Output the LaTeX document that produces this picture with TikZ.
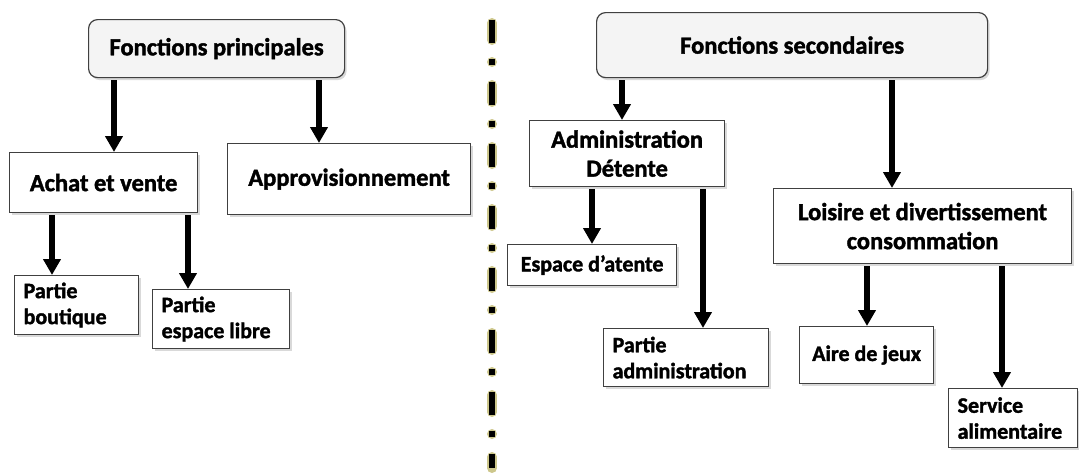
\documentclass[tikz,border=0pt]{standalone}
\usepackage{fontspec}
\setmainfont[BoldFeatures={FakeBold=1.6}]{Carlito}
\usepackage{tikz}
\usetikzlibrary{arrows.meta, shadows, positioning}

\definecolor{bordgris}{RGB}{64,64,64}
\definecolor{titrefond}{RGB}{244,244,244}
\definecolor{halo}{RGB}{205,199,140}

\newcommand{\grandtxt}{\fontsize{24.5}{29}\selectfont\bfseries}
\newcommand{\petittxt}{\fontsize{22}{26}\selectfont\bfseries}

\tikzset{
	cadre/.style={draw=bordgris, line width=1.2pt, fill=white, inner sep=0pt, anchor=north west,
		drop shadow={shadow xshift=2pt, shadow yshift=-2.5pt, opacity=.3}},
	titre/.style={cadre, rounded corners=9pt, fill=titrefond, font=\grandtxt},
	moyen/.style={cadre, font=\grandtxt, align=flush center},
	feuille/.style={cadre, font=\petittxt, align=flush left, inner xsep=9pt},
	fleche/.style={-{Triangle[width=17pt,length=16pt]}, line width=5.5pt, shorten <=2pt}
}

\begin{document}
\begin{tikzpicture}[x=1pt, y=-1pt]
			\useasboundingbox (0,0) rectangle (1079,472);
			% fonctions principales
			\node[titre, minimum width=256pt, minimum height=58pt] (princ) at (88,19) {Fonctions principales};
			\node[moyen, minimum width=188pt, minimum height=60pt] (achat) at (9,152) {Achat et vente};
			\node[moyen, minimum width=243pt, minimum height=71pt] (appro) at (227,143) {Approvisionnement};
			\node[feuille, text width=106pt, minimum height=59pt] (boutique) at (14,275) {Partie\\boutique};
			\node[feuille, text width=119pt, minimum height=59pt] (libre) at (152,289) {Partie\\espace libre};
			% fonctions secondaires
			\node[titre, minimum width=391pt, minimum height=65pt] (second) at (596,12) {Fonctions secondaires};
			\node[moyen, minimum width=195pt, minimum height=66pt] (admin) at (529,120) {Administration\\Détente};
			\node[moyen, minimum width=169pt, minimum height=41pt, font=\petittxt] (attente) at (507,244) {Espace d’atente};
			\node[feuille, text width=147pt, minimum height=58pt] (padmin) at (603,328) {Partie\\administration};
			\node[moyen, minimum width=298pt, minimum height=75pt] (loisir) at (773,188) {Loisire et divertissement\\consommation};
			\node[moyen, minimum width=134pt, minimum height=57pt, font=\petittxt] (aire) at (799,326) {Aire de jeux};
			\node[feuille, text width=111pt, minimum height=59pt] (service) at (948,388) {Service\\alimentaire};
			% separation
			\coordinate (sepA) at (492,20);
			\coordinate (sepB) at (492,468);
			\draw[halo, line width=10pt, line cap=round, dash pattern=on 17pt off 22pt on 0pt off 23pt]
				([yshift=-3pt]sepA) -- (sepB);
			\draw[black, line width=6pt, dash pattern=on 23pt off 16pt on 6pt off 17pt] (sepA) -- (sepB);
			% liens
			\path[fleche]
			(princ.south -| 114,0) edge (achat.north -| 114,0)
			(princ.south -| 319,0) edge (appro.north -| 319,0)
			(achat.south -| 52,0) edge (boutique.north -| 52,0)
			(achat.south -| 188,0) edge (libre.north -| 188,0)
			(second.south -| 622,0) edge (admin.north -| 622,0)
			(second.south -| 892,0) edge (loisir.north -| 892,0)
			(admin.south -| 592,0) edge (attente.north -| 592,0)
			(admin.south -| 703,0) edge (padmin.north -| 703,0)
			(loisir.south -| 867,0) edge (aire.north -| 867,0)
			(loisir.south -| 1002,0) edge (service.north -| 1002,0)
			;
		\end{tikzpicture}
\end{document}
